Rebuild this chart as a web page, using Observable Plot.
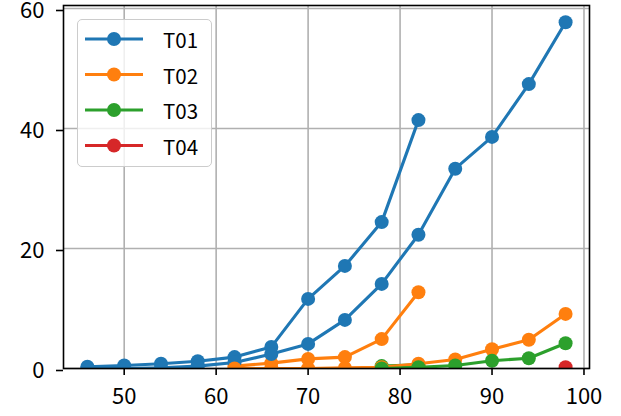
<!DOCTYPE html>
<html>
<head>
<meta charset="utf-8">
<script src="https://cdn.jsdelivr.net/npm/d3@7"></script>
<script src="https://cdn.jsdelivr.net/npm/@observablehq/plot@0.6"></script>
<style>
  html, body { margin: 0; padding: 0; background: #fff; }
  #wrap { position: relative; width: 621px; height: 416px; font-family: "Noto Sans CJK JP", "DejaVu Sans", sans-serif; }
  #legend { position: absolute; left: 77px; top: 19px; width: 135px; height: 148px; box-sizing: border-box;
            background: rgba(255,255,255,0.8); border: 1.6px solid #cccccc; border-radius: 5px; }
  #legend svg { position: absolute; left: 0; top: 0; overflow: visible; }
</style>
</head>
<body>
<div id="wrap"></div>
<script>
// ---- data ----
const labels = ["T01", "T02", "T03", "T04"];
const colors = ["#1f77b4", "#ff7f0e", "#2ca02c", "#d62728"];
const xTicks = [50, 60, 70, 80, 90, 100];
const yTicks = [0, 20, 40, 60];

// run A (ends at 82)
const xA_T01 = [46, 50, 54, 58, 62, 66, 70, 74, 78, 82];
const yA_T01 = [0.3, 0.5, 0.8, 1.2, 1.9, 3.6, 11.6, 17.1, 24.4, 41.4];
const xA_T02 = [62, 66, 70, 74, 78, 82];
const yA_T02 = [0.4, 0.9, 1.6, 1.9, 4.9, 12.7];
const xA_T03 = [78, 82];
const yA_T03 = [0.4, 0.6];

// run B (ends at 98)
const xB_T01 = [46, 50, 54, 58, 62, 66, 70, 74, 78, 82, 86, 90, 94, 98];
const yB_T01 = [0, 0, 0.1, 0.4, 1.0, 2.4, 4.1, 8.1, 14.1, 22.3, 33.3, 38.6, 47.4, 57.7];
const xB_T02 = [62, 66, 70, 74, 78, 82, 86, 90, 94, 98];
const yB_T02 = [0, 0, 0, 0.1, 0.2, 0.8, 1.5, 3.2, 4.8, 9.1];
const xB_T03 = [78, 82, 86, 90, 94, 98];
const yB_T03 = [0, 0.2, 0.5, 1.3, 1.7, 4.2];
const xB_T04 = [98];
const yB_T04 = [0.2];

const series = [
  {label: "T01", xs: xA_T01, ys: yA_T01},
  {label: "T02", xs: xA_T02, ys: yA_T02},
  {label: "T03", xs: xA_T03, ys: yA_T03},
  {label: "T01", xs: xB_T01, ys: yB_T01},
  {label: "T02", xs: xB_T02, ys: yB_T02},
  {label: "T03", xs: xB_T03, ys: yB_T03},
  {label: "T04", xs: xB_T04, ys: yB_T04}
];

const colorOf = l => colors[labels.indexOf(l)];
const FONT = '"Noto Sans CJK JP", "DejaVu Sans", sans-serif';

const marks = [
  Plot.gridX(xTicks, {stroke: "#b0b0b0", strokeOpacity: 1, strokeWidth: 1.6}),
  Plot.gridY(yTicks, {stroke: "#b0b0b0", strokeOpacity: 1, strokeWidth: 1.6})
];
for (const s of series) {
  const rows = s.xs.map((x, i) => ({x, y: s.ys[i], label: s.label}));
  const c = colorOf(s.label);
  marks.push(Plot.line(rows, {x: "x", y: "y", stroke: c, strokeWidth: 3.1, clip: "frame"}));
  marks.push(Plot.dot(rows, {x: "x", y: "y", fill: c, stroke: "none", r: 7, clip: "frame"}));
}
marks.push(Plot.frame({stroke: "#000", strokeWidth: 1.6}));
marks.push(Plot.axisX(xTicks, {tickSize: 7, tickPadding: 13, stroke: "#000", strokeWidth: 1.6, fill: "#000", fontSize: 22}));
marks.push(Plot.axisY(yTicks, {tickSize: 7, tickPadding: 12, dy: 2, stroke: "#000", strokeWidth: 1.6, fill: "#000", fontSize: 22}));

const chart = Plot.plot({
  width: 621,
  height: 416,
  marginLeft: 63,
  marginRight: 32,
  marginTop: 5,
  marginBottom: 48,
  style: {fontFamily: FONT, fontSize: "22px", background: "white", color: "black"},
  x: {domain: [43.4, 100.6], label: null},
  y: {domain: [0, 60.5], label: null},
  marks
});
const wrap = document.getElementById("wrap");
wrap.appendChild(chart);

// legend overlay
const leg = document.createElement("div");
leg.id = "legend";
const ns = "http://www.w3.org/2000/svg";
const lsvg = document.createElementNS(ns, "svg");
lsvg.setAttribute("width", 135);
lsvg.setAttribute("height", 148);
labels.forEach((l, i) => {
  const cy = 19 + i * 35.5;
  const line = document.createElementNS(ns, "line");
  line.setAttribute("x1", 7); line.setAttribute("x2", 65);
  line.setAttribute("y1", cy); line.setAttribute("y2", cy);
  line.setAttribute("stroke", colors[i]); line.setAttribute("stroke-width", 3.1);
  lsvg.appendChild(line);
  const dot = document.createElementNS(ns, "circle");
  dot.setAttribute("cx", 36); dot.setAttribute("cy", cy); dot.setAttribute("r", 7);
  dot.setAttribute("fill", colors[i]);
  lsvg.appendChild(dot);
  const t = document.createElementNS(ns, "text");
  t.setAttribute("x", 85); t.setAttribute("y", cy);
  t.setAttribute("dominant-baseline", "central");
  t.setAttribute("font-size", 20.5);
  t.setAttribute("font-family", FONT);
  t.setAttribute("fill", "#000");
  t.textContent = l;
  lsvg.appendChild(t);
});
leg.appendChild(lsvg);
wrap.appendChild(leg);
</script>
</body>
</html>
